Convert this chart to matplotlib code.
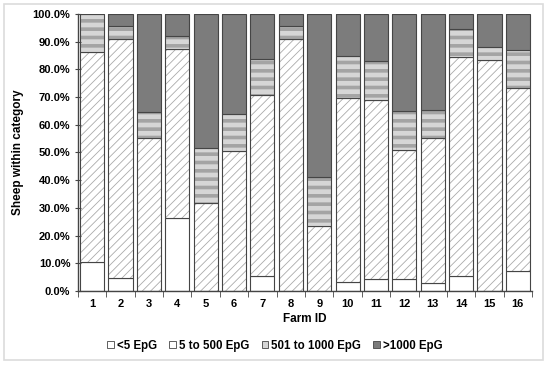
import matplotlib
matplotlib.use("Agg")
import matplotlib.pyplot as plt
import numpy as np
from matplotlib.patches import Patch, Rectangle
from matplotlib.ticker import PercentFormatter

farms = [str(i) for i in range(1, 17)]
lt5 = [10.4, 4.8, 0, 26.3, 0, 0, 5.5, 0, 0, 3.4, 4.2, 4.2, 3.0, 5.3, 0, 7.1]
to500 = [75.9, 86.2, 55.2, 61.0, 31.7, 50.4, 65.3, 91.0, 23.6, 66.1, 64.7, 46.5, 52.2, 79.0, 83.4, 66.2]
to1000 = [13.7, 4.5, 9.3, 4.9, 19.9, 13.6, 12.9, 4.5, 17.7, 15.2, 14.2, 14.2, 10.0, 10.3, 4.7, 13.8]
gt1000 = [0, 4.5, 35.5, 7.8, 48.4, 36.0, 16.3, 4.5, 58.7, 15.3, 16.9, 35.1, 34.8, 5.4, 11.9, 12.9]
labels = ["<5 EpG", "5 to 500 EpG", "501 to 1000 EpG", ">1000 EpG"]

plt.rcParams['font.family'] = ['Liberation Sans', 'DejaVu Sans']
plt.rcParams['font.weight'] = 'bold'

fig = plt.figure(figsize=(5.5, 3.66), dpi=100)
ax = fig.add_axes([0.1418, 0.205, 0.8255, 0.757])

x = np.arange(len(farms))
w = 0.85
edge = "#454545"
series = [np.array(lt5), np.array(to500), np.array(to1000), np.array(gt1000)]
# face colour, hatch, hatch colour, hatch width
styles = [("white", None, None, 0.6),
          ("white", "////", "#aaaaaa", 0.6),
          ("#d6d6d6", "--", "#a4a4a4", 2.6),
          ("#7c7c7c", None, None, 0.6)]

bottom = np.zeros(len(farms))
for vals, (fc, hatch, hc, hlw) in zip(series, styles):
    plt.rcParams['hatch.linewidth'] = hlw
    if hatch:
        ax.bar(x, vals, w, bottom=bottom, color=fc, edgecolor=hc, hatch=hatch, linewidth=0)
    else:
        ax.bar(x, vals, w, bottom=bottom, color=fc, linewidth=0)
    ax.bar(x, vals, w, bottom=bottom, fill=False, edgecolor=edge, linewidth=0.8)
    bottom += vals
plt.rcParams['hatch.linewidth'] = 0.6

ax.set_xlim(-0.5, 15.5)
ax.set_ylim(0, 100)
ax.set_yticks(np.arange(0, 101, 10))
ax.yaxis.set_major_formatter(PercentFormatter(100, decimals=1))
ax.set_xticks(x)
ax.set_xticklabels(farms)
ax.set_xticks(np.arange(-0.5, 16, 1), minor=True)
ax.tick_params(axis='x', which='major', length=0, labelsize=8, pad=6)
ax.tick_params(axis='x', which='minor', length=4, direction='out', color=edge)
ax.tick_params(axis='y', length=4, direction='inout', color=edge, labelsize=8)
for s in ['top', 'right']:
    ax.spines[s].set_visible(False)
for s in ['left', 'bottom']:
    ax.spines[s].set_color(edge)
    ax.spines[s].set_linewidth(1.0)

ax.set_xlabel("Farm ID", fontsize=8.5, fontweight='bold', labelpad=3)
ax.set_ylabel("Sheep within category", fontsize=8.5, fontweight='bold', labelpad=6)

handles = []
for lab, (fc, hatch, hc, hlw) in zip(labels, styles):
    handles.append(Patch(facecolor=fc, edgecolor=edge, linewidth=0.6, label=lab))
fig.legend(handles=handles, loc='center', bbox_to_anchor=(0.5, 0.055), ncol=4,
           frameon=False, fontsize=8.3, handlelength=0.6, handleheight=0.6,
           handletextpad=0.25, columnspacing=1.05)

fig.add_artist(Rectangle((0.008, 0.016), 0.979, 0.972, transform=fig.transFigure,
                         fill=False, edgecolor="#dcdcdc", linewidth=1.2))

fig.savefig("out.png", dpi=100)
